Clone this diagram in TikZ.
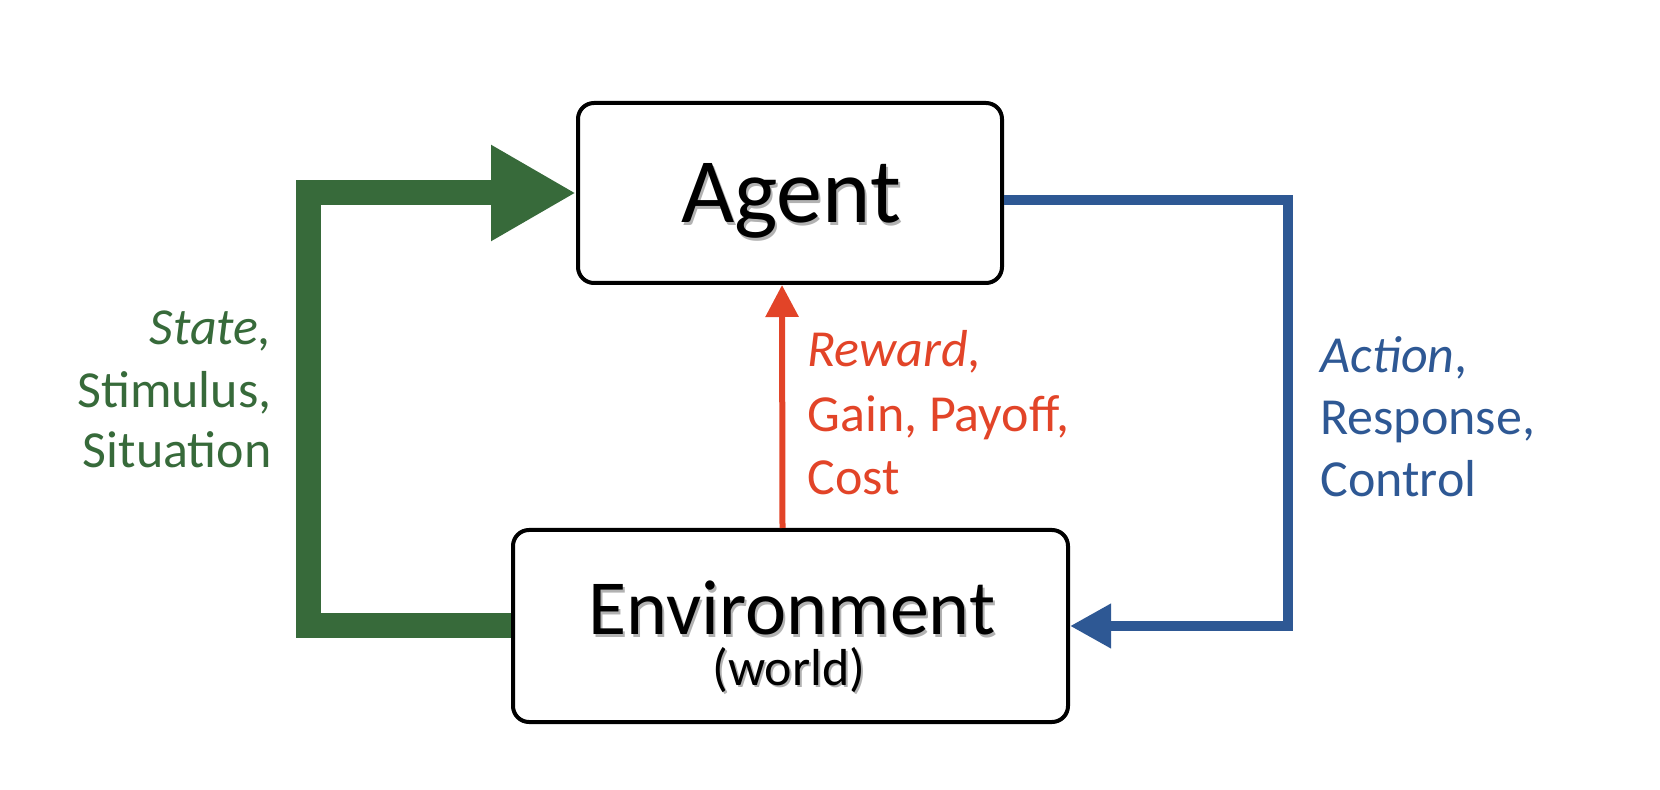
\documentclass[tikz,border=0pt]{standalone}
\usepackage{fontspec}
\setmainfont{Carlito}
\usetikzlibrary{arrows.meta}
\definecolor{ggreen}{RGB}{55,106,58}
\definecolor{gblue}{RGB}{46,88,148}
\definecolor{gred}{RGB}{226,68,40}
\begin{document}
\begin{tikzpicture}[x=0.5pt,y=-0.5pt,
  box/.style={draw=black, line width=2pt, rounded corners=8pt, fill=white, inner sep=0pt},
  txt/.style={inner sep=0pt, anchor=base},
  shade/.style={txt, text=black, opacity=0.3},
  agentfont/.style={font=\fontsize{46}{50}\selectfont},
  envfont/.style={font=\fontsize{39}{44}\selectfont},
  worldfont/.style={font=\fontsize{26}{30}\selectfont},
  lbl/.style={inner sep=0pt, font=\fontsize{26}{31}\selectfont},
  greenlbl/.style={lbl, text=ggreen, anchor=base east},
  redlbl/.style={lbl, text=gred, anchor=base west},
  bluelbl/.style={lbl, text=gblue, anchor=base west},
  greenarrow/.style={draw=ggreen, line width=12.5pt, line join=miter, -{Triangle[length=42.5pt,width=45pt]}},
  bluearrow/.style={draw=gblue, line width=5pt, line join=miter, -{Triangle[length=20.5pt,width=21pt]}},
  redarrow/.style={draw=gred, line width=3pt, -{Triangle[length=16pt,width=16pt]}}
]
\useasboundingbox (0,0) rectangle (1660,790);

% boxes
\node[box, minimum width=212pt, minimum height=90pt] (agent) at (790,193) {};
\node[box, minimum width=277.5pt, minimum height=96pt] (env) at (790.5,626) {};

% box texts with soft shadow
\node[shade, agentfont] (agentshade) at (793,226) {Agent};
\node[txt, agentfont] (agenttxt) at (791,223) {Agent};
\node[shade, envfont] (envshade) at (794,638) {Environment};
\node[txt, envfont] (envtxt) at (792,635) {Environment};
\node[shade, worldfont] (worldshade) at (791,688) {(world)};
\node[txt, worldfont] (worldtxt) at (789,685) {(world)};

% connectors
\draw[greenarrow] (env.west) -- ++(-203,0) |- (agent.west);
\draw[bluearrow] ([yshift=-3.5pt]agent.east) -- ++(284,0) |- (env.east);
\draw[redarrow] ([xshift=-4pt]env.north) -- ([xshift=-4pt]agent.south);

% labels
\node[greenlbl] (state) at (272,345) {\itshape State,};
\node[greenlbl] (stimulus) at (272,408) {Stimulus,};
\node[greenlbl] (situation) at (272,468) {Situation};

\node[redlbl] (reward) at (807,367) {\itshape Reward\upshape,};
\node[redlbl] (gain) at (807,432) {Gain, Payoff,};
\node[redlbl] (cost) at (807,495) {Cost};

\node[bluelbl] (action) at (1320,373) {\itshape Action\upshape,};
\node[bluelbl] (response) at (1320,435) {Response,};
\node[bluelbl] (control) at (1320,497) {Control};
\end{tikzpicture}
\end{document}
